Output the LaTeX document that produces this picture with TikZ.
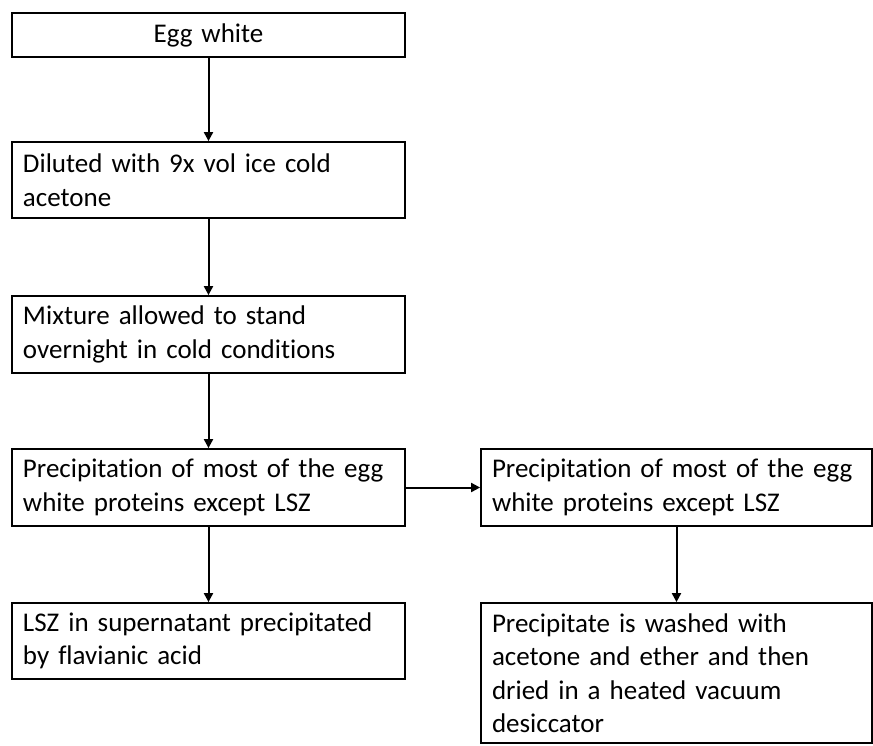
\documentclass[tikz,border=0pt]{standalone}
\usepackage{fontspec}
\setmainfont{Carlito}[Ligatures=NoCommon]
\usetikzlibrary{arrows.meta}
\newcommand{\myboxfont}{\fontsize{27}{33.5}\selectfont\spaceskip=5.5pt plus 1pt minus 1pt\relax}
\begin{document}
\begin{tikzpicture}[x=1pt,y=-1pt,
  box/.style={draw=black, line width=1.8pt, rectangle, inner xsep=11pt, inner ysep=1pt,
    font=\myboxfont, align=left},
  leftbox/.style={box, minimum width=393pt, text width=371pt},
  rightbox/.style={box, minimum width=391pt, text width=369pt},
  arr/.style={line width=2pt, -{Triangle[length=9pt,width=9pt]}}]
\useasboundingbox (0,0) rectangle (873,745);
\node[leftbox, minimum height=44pt, align=center] (egg) at (208.5,35) {Egg white};
\node[leftbox, minimum height=76pt] (dil) at (208.5,180) {Diluted with 9x vol ice cold\\acetone};
\node[leftbox, minimum height=77pt] (mix) at (208.5,334.5) {Mixture allowed to stand\\overnight in cold conditions};
\node[leftbox, minimum height=77pt] (prec) at (208.5,487.5) {Precipitation of most of the egg\\white proteins except LSZ};
\node[leftbox, minimum height=76pt] (lsz) at (208.5,641) {LSZ in supernatant precipitated\\by flavianic acid};
\node[rightbox, minimum height=77pt] (precb) at (676.5,487.5) {Precipitation of most of the egg\\white proteins except LSZ};
\node[rightbox, minimum height=140pt] (wash) at (676.5,673) {Precipitate is washed with\\acetone and ether and then\\dried in a heated vacuum\\desiccator};
\draw[arr] (egg) -- (dil);
\draw[arr] (dil) -- (mix);
\draw[arr] (mix) -- (prec);
\draw[arr] (prec) -- (lsz);
\draw[arr] (prec) -- (precb);
\draw[arr] (precb) -- (wash);
\end{tikzpicture}
\end{document}
